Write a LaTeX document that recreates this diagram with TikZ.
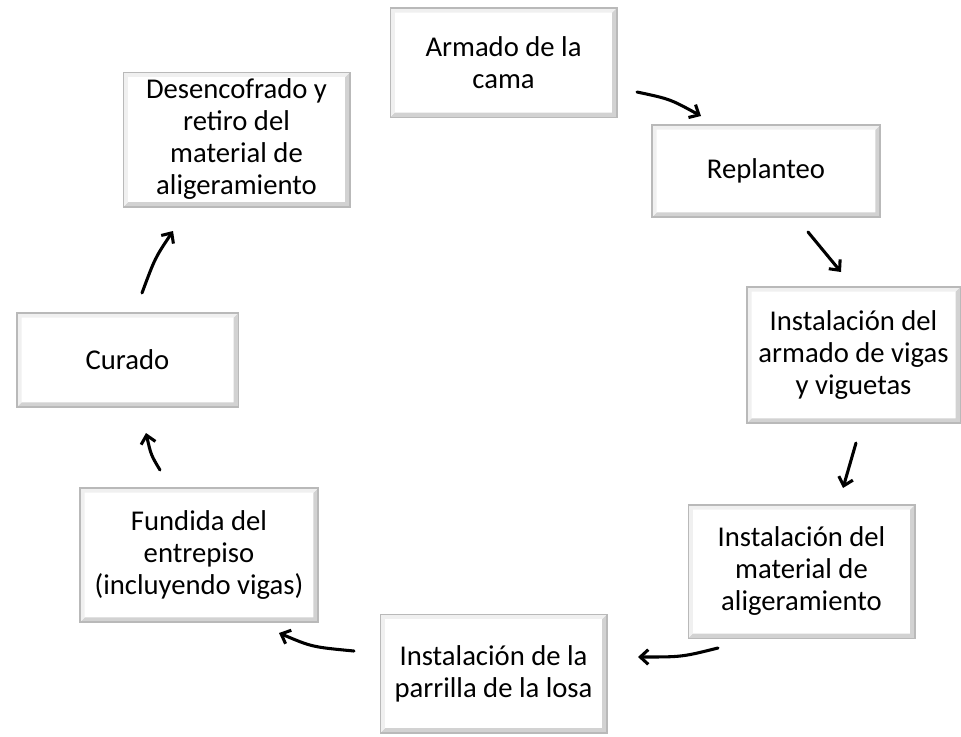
\documentclass[tikz,border=0pt]{standalone}
\usepackage{fontspec}
\setmainfont{Carlito}
\usepackage{tikz}
\usetikzlibrary{arrows.meta}

\tikzset{
  stepbox/.style={draw=gray!55, line width=1pt, fill=white, align=center,
    font=\fontsize{21.5}{24}\selectfont, inner sep=2pt,
    path picture={
      \fill[gray!35] (path picture bounding box.north east) -- (path picture bounding box.south east)
        -- (path picture bounding box.south west) -- ++(3.5pt,3.5pt) -| ([xshift=-3.5pt,yshift=-3.5pt]path picture bounding box.north east) -- cycle;
      \fill[gray!12] (path picture bounding box.north east) -- (path picture bounding box.north west)
        -- (path picture bounding box.south west) -- ++(3.5pt,3.5pt) |- ([xshift=-3.5pt,yshift=-3.5pt]path picture bounding box.north east) -- cycle;
    }},
  flow/.style={-{Straight Barb[length=6pt,width=11pt]}, line width=2.3pt, line cap=round}
}

\begin{document}
\begin{tikzpicture}[x=0.75pt, y=-0.75pt]
\useasboundingbox (0,0) rectangle (961,736);
% the eight steps of the cycle
\node[stepbox, minimum width=170pt, minimum height=82pt] (cama) at (503.5,62.5) {Armado de la\\cama};
\node[stepbox, minimum width=171pt, minimum height=69pt] (replanteo) at (766,171) {Replanteo};
\node[stepbox, minimum width=160pt, minimum height=102pt] (vigas) at (853.5,355) {Instalación del\\armado de vigas\\y viguetas};
\node[stepbox, minimum width=170pt, minimum height=100pt] (material) at (801.5,571.5) {Instalación del\\material de\\aligeramiento};
\node[stepbox, minimum width=170pt, minimum height=89pt] (parrilla) at (493.5,673.5) {Instalación de la\\parrilla de la losa};
\node[stepbox, minimum width=178.5pt, minimum height=100.5pt] (fundida) at (199,555) {Fundida del\\entrepiso\\(incluyendo vigas)};
\node[stepbox, minimum width=166pt, minimum height=70.5pt] (curado) at (127.5,360) {Curado};
\node[stepbox, minimum width=170pt, minimum height=101pt] (desencofrado) at (236.5,139.5) {Desencofrado y\\retiro del\\material de\\aligeramiento};

% arrow ends
\coordinate (c1) at (637,92);   \coordinate (r1) at (701,116);
\coordinate (r2) at (808,232);  \coordinate (v2) at (841,272);
\coordinate (v3) at (856,443);  \coordinate (m3) at (843,488);
\coordinate (m4) at (718,648);  \coordinate (p4) at (638,657);
\coordinate (p5) at (354,651);  \coordinate (f5) at (279,633);
\coordinate (f6) at (160,470);  \coordinate (u6) at (146,433);
\coordinate (u7) at (142,293);  \coordinate (d7) at (173,231);

\draw[flow] (c1) .. controls (670,99) .. (r1);
\draw[flow] (r2) -- (v2);
\draw[flow] (v3) -- (m3);
\draw[flow] (m4) .. controls (682,657) .. (p4);
\draw[flow] (p5) .. controls (312,647) .. (f5);
\draw[flow] (f6) .. controls (151,455) .. (u6);
\draw[flow] (u7) .. controls (155,258) .. (d7);
\end{tikzpicture}
\end{document}
